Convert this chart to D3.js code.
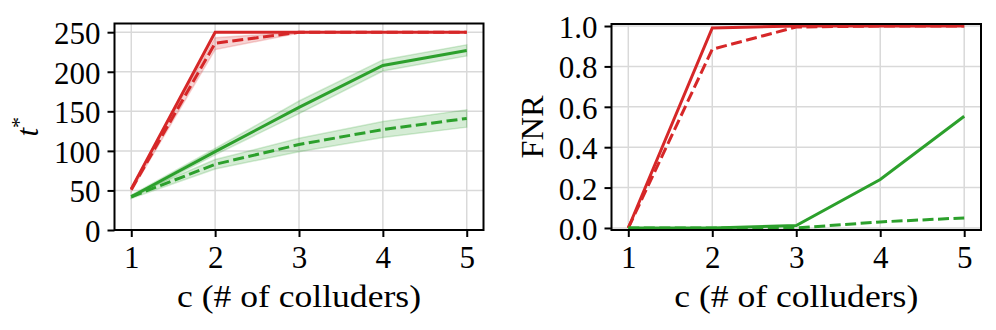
<!DOCTYPE html>
<html>
<head>
<meta charset="utf-8">
<script src="https://cdn.jsdelivr.net/npm/d3@7"></script>
<style>
  body { margin: 0; background: #fff; }
  text { font-family: "Liberation Serif", "Times New Roman", serif; fill: #000; }
</style>
</head>
<body>
<svg id="chart" width="996" height="330"></svg>
<script>
var colluders = [1, 2, 3, 4, 5]

// left panel: t*
var tRedSolid = [52, 250, 250, 250, 250]
var tRedSolidLo = [51, 250, 250, 250, 250]
var tRedSolidHi = [53, 250, 250, 250, 250]
var tRedDashed = [51, 236, 250, 250, 250]
var tRedDashedLo = [49, 228, 249, 250, 250]
var tRedDashedHi = [53, 243, 250, 250, 250]
var tGreenSolid = [42, 99, 155, 208, 227]
var tGreenSolidLo = [40, 95, 147, 201, 220]
var tGreenSolidHi = [44, 103, 163, 215, 234]
var tGreenDashed = [42, 83, 108, 127, 141]
var tGreenDashedLo = [40, 77, 99, 117, 130]
var tGreenDashedHi = [44, 89, 116, 137, 152]

// right panel: FNR
var fRedSolid = [0, 0.99, 1.0, 1.0, 1.0]
var fRedDashed = [0, 0.885, 0.995, 1.0, 1.0]
var fGreenSolid = [0, 0, 0.012, 0.24, 0.553]
var fGreenDashed = [0, 0, 0.0, 0.03, 0.05]

var xTicks = [1, 2, 3, 4, 5]
var tTicks = [0, 50, 100, 150, 200, 250]
var fTicks = [0, 0.2, 0.4, 0.6, 0.8, 1.0]

var red = "#d62728"
var green = "#2ca02c"
var svg = d3.select("#chart")

function drawPanel(p) {
    var x = d3.scaleLinear().domain([0.8, 5.2]).range([p.left, p.right])
    var y = d3.scaleLinear().domain(p.yDomain).range([p.bottom, p.top])
    var g = svg.append("g")

    // grid
    g.append("g").selectAll("line").data(xTicks).join("line")
        .attr("x1", d => x(d)).attr("x2", d => x(d))
        .attr("y1", p.top).attr("y2", p.bottom)
        .attr("stroke", "#d9d9d9").attr("stroke-width", 1.5)
    g.append("g").selectAll("line").data(p.yTicks).join("line")
        .attr("x1", p.left).attr("x2", p.right)
        .attr("y1", d => y(d)).attr("y2", d => y(d))
        .attr("stroke", "#d9d9d9").attr("stroke-width", 1.5)

    // bands
    p.bands.forEach(function(b) {
        var area = d3.area().x((d, i) => x(colluders[i])).y0((d, i) => y(b.lo[i])).y1(d => y(d))
        g.append("path").datum(b.hi).attr("d", area)
            .attr("fill", b.color).attr("fill-opacity", 0.2)
            .attr("stroke", b.color).attr("stroke-opacity", 0.2).attr("stroke-width", 1.5)
    })

    // lines
    var line = d3.line().x((d, i) => x(colluders[i])).y(d => y(d))
    p.series.forEach(function(s) {
        g.append("path").datum(s.values).attr("d", line)
            .attr("fill", "none").attr("stroke", s.color).attr("stroke-width", 3)
            .attr("stroke-dasharray", s.dashed ? "11,4.5" : null)
    })

    // frame
    g.append("rect").attr("x", p.left).attr("y", p.top)
        .attr("width", p.right - p.left).attr("height", p.bottom - p.top)
        .attr("fill", "none").attr("stroke", "#000").attr("stroke-width", 2)

    // axes
    var xAxis = g.append("g").attr("transform", "translate(0," + p.bottom + ")")
        .call(d3.axisBottom(x).tickValues(xTicks).tickSize(7).tickPadding(16).tickFormat(d3.format("d")))
    var yAxis = g.append("g").attr("transform", "translate(" + p.left + ",0)")
        .call(d3.axisLeft(y).tickValues(p.yTicks).tickSize(7).tickPadding(7).tickFormat(p.fmt))
    ;[xAxis, yAxis].forEach(function(a) {
        a.select(".domain").remove()
        a.selectAll(".tick line").attr("stroke", "#000").attr("stroke-width", 2)
        a.selectAll("text").attr("font-size", 31).attr("font-family", null)
    })
    xAxis.selectAll("text").attr("dy", "0.71em").attr("y", 15.5)
    yAxis.selectAll("text").attr("dy", "0.37em")

    g.append("text").attr("x", (p.left + p.right) / 2).attr("y", 307)
        .attr("text-anchor", "middle").attr("font-size", 31)
        .attr("textLength", 244).attr("lengthAdjust", "spacingAndGlyphs")
        .text("c (# of colluders)")

    var yl = g.append("text").attr("transform", "translate(" + p.yLabelX + "," + (p.top + p.bottom) / 2 + ") rotate(-90)")
        .attr("text-anchor", "middle").attr("font-size", 31)
    p.yLabel(yl)
}

drawPanel({
    left: 114.5, right: 483.5, top: 23.5, bottom: 230,
    yDomain: [0, 261], yTicks: tTicks, fmt: d3.format("d"),
    yLabelX: 38,
    yLabel: function(t) {
        t.append("tspan").attr("font-style", "italic").text("t")
        t.append("tspan").attr("font-size", 22).attr("dy", -12).text("*")
    },
    bands: [
        { lo: tRedSolidLo, hi: tRedSolidHi, color: red },
        { lo: tRedDashedLo, hi: tRedDashedHi, color: red },
        { lo: tGreenSolidLo, hi: tGreenSolidHi, color: green },
        { lo: tGreenDashedLo, hi: tGreenDashedHi, color: green }
    ],
    series: [
        { values: tRedSolid, color: red, dashed: false },
        { values: tRedDashed, color: red, dashed: true },
        { values: tGreenSolid, color: green, dashed: false },
        { values: tGreenDashed, color: green, dashed: true }
    ]
})

drawPanel({
    left: 611.5, right: 981, top: 24, bottom: 230,
    yDomain: [-0.01, 1.01], yTicks: fTicks, fmt: d3.format(".1f"),
    yLabelX: 543,
    yLabel: function(t) { t.attr("textLength", 63).attr("lengthAdjust", "spacingAndGlyphs").text("FNR") },
    bands: [],
    series: [
        { values: fRedSolid, color: red, dashed: false },
        { values: fRedDashed, color: red, dashed: true },
        { values: fGreenSolid, color: green, dashed: false },
        { values: fGreenDashed, color: green, dashed: true }
    ]
})
</script>
</body>
</html>
